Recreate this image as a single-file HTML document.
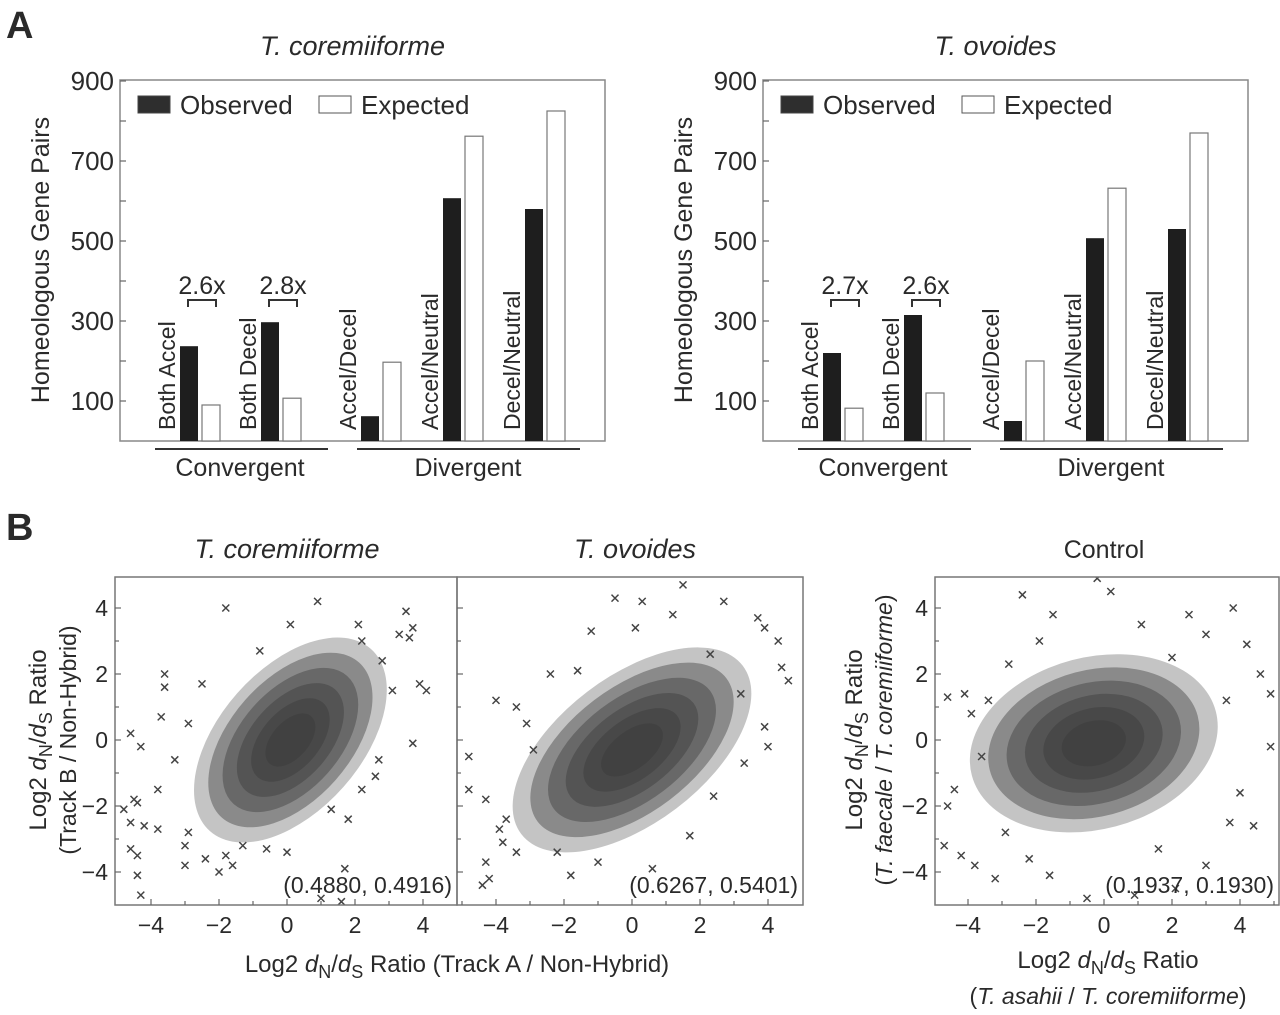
<!DOCTYPE html>
<html><head><meta charset="utf-8">
<style>
html,body{margin:0;padding:0;background:#fff;}
svg{display:block;font-family:"Liberation Sans",sans-serif;}
text{fill:#2a2a2a;}
</style></head>
<body>
<svg id="fig" width="1280" height="1015" viewBox="0 0 1280 1015" xmlns="http://www.w3.org/2000/svg">
<text x="6" y="38" font-size="38" font-weight="bold">A</text>
<text x="6" y="540" font-size="38" font-weight="bold">B</text>
<g id="gA"></g>
<g id="gB"></g>
</svg>
<script>
// ---------- Panel A data ----------
const barCategories = ["Both Accel","Both Decel","Accel/Decel","Accel/Neutral","Decel/Neutral"];
const coreObserved = [237, 297, 62, 607, 580];
const coreExpected = [90, 107, 197, 762, 825];
const ovoObserved = [220, 315, 50, 507, 530];
const ovoExpected = [82, 120, 200, 632, 770];
const yTicksA = [100, 300, 500, 700, 900];
const foldCore = ["2.6x","2.8x"];
const foldOvo = ["2.7x","2.6x"];

// ---------- Panel B data ----------
const ticksB = [-4,-2,0,2,4];
const corrLabels = ["(0.4880, 0.4916)","(0.6267, 0.5401)","(0.1937, 0.1930)"];
// cloud stats: [centerX, centerY, sdX, sdY, rho]
const cloudCore = [0.1, 0.0, 1.05, 1.15, 0.49];
const cloudOvo = [0.0, -0.3, 1.3, 1.15, 0.55];
const cloudCtrl = [-0.3, -0.1, 1.35, 1.0, 0.19];
const outCoreX = [-4.6,-4.3,-3.7,-3.6,-3.6,-4.5,-4.4,-4.8,-4.6,-4.2,-3.8,-4.6,-4.4,-4.4,-4.3,-3,-3,-2.4,-2,-1.8,-1.6,-0.6,0,1,1.6,1.7,-1.8,0.9,0.1,2.1,2.2,3.3,3.5,3.7,3.6,3.9,4.1,3.7,2.8,3.1,-0.8,-2.5,-2.9,-3.3,-3.8,2.7,2.6,2.2,1.8,1.3,-1.3,-2.9];
const outCoreY = [0.2,-0.2,0.7,2,1.6,-1.8,-1.9,-2.1,-2.5,-2.6,-2.7,-3.3,-3.5,-4.1,-4.7,-3.8,-3.2,-3.6,-4,-3.5,-3.8,-3.3,-3.4,-4.8,-4.9,-3.9,4,4.2,3.5,3.5,3,3.2,3.9,3.4,3.1,1.7,1.5,-0.1,2.4,1.5,2.7,1.7,0.5,-0.6,-1.5,-0.6,-1.1,-1.5,-2.4,-2.1,-3.2,-2.8];
const outOvoX = [-4.8,-4.8,-4.3,-4.3,-4.4,-4.2,-3.8,-3.4,-4,-3.4,-2.4,-1.2,-0.5,0.3,0.1,1.5,2.7,3.7,3.9,4.3,4.6,4.4,3.9,3.3,2.4,1.7,0.6,-1,-1.8,-2.2,-3.7,-3.9,-1.6,1.2,2.3,3.2,4,-2.9,-3.1];
const outOvoY = [-0.5,-1.5,-1.8,-3.7,-4.4,-4.2,-3.1,-3.4,1.2,1,2,3.3,4.3,4.2,3.4,4.7,4.2,3.7,3.4,3,1.8,2.2,0.4,-0.7,-1.7,-2.9,-3.9,-3.7,-4.1,-3.4,-2.4,-2.7,2.1,3.8,2.6,1.4,-0.2,-0.3,0.5];
const outCtrlX = [-4.6,-4.4,-4.6,-4.2,-3.8,-3.2,-2.4,-1.5,-0.2,0.2,1.1,2.5,3,3.8,4.6,4.9,4.9,4,3.7,3,2.1,0.9,-0.5,-1.6,-2.9,-3.6,-3.4,-2.8,-1.9,2,3.6,4.2,4.4,1.6,-2.2,-4.7,-4.1,-3.9];
const outCtrlY = [-2,-1.5,1.3,-3.5,-3.8,-4.2,4.4,3.8,4.9,4.5,3.5,3.8,3.2,4,2,1.4,-0.2,-1.6,-2.5,-3.8,-4.5,-4.7,-4.8,-4.1,-2.8,-0.5,1.2,2.3,3,2.5,1.2,2.9,-2.6,-3.3,-3.6,-3.2,1.4,0.8];

const NS="http://www.w3.org/2000/svg";
function mk(parent, tag, attrs, txt){
  const e=document.createElementNS(NS,tag);
  for(const k in attrs) e.setAttribute(k,attrs[k]);
  if(txt!==undefined) e.textContent=txt;
  parent.appendChild(e); return e;
}
const gA=document.getElementById('gA');
const gB=document.getElementById('gB');

// ---------- Panel A ----------
function barChart(off, title, obs, exp, folds, prefix){
  const x0=120+off, x1=605+off, yTop=80, yBase=441;
  const yS=v=>yBase - v*0.4;
  const g=mk(gA,'g',{});
  
  
  let t=mk(g,'text',{x:(x0+x1)/2-10,y:55,'font-size':27,'font-style':'italic','text-anchor':'middle'},title);
  
  
  let fr=mk(g,'rect',{x:x0,y:yTop,width:x1-x0,height:yBase-yTop,fill:'none',stroke:'#888','stroke-width':1.5});
  
  
  for(let v=100; v<=900; v+=100){
    const y=yS(v);
    const tk=mk(g,'line',{x1:x0,x2:x0+6,y1:y,y2:y,stroke:'#666','stroke-width':1.2});
    
    
  }
  yTicksA.forEach(v=>{
    const l=mk(g,'text',{x:x0-6,y:yS(v)+9,'font-size':26,'text-anchor':'end'},String(v));
    
    
  });
  const yl=mk(g,'text',{x:0,y:0,'font-size':25,'text-anchor':'middle',transform:`translate(${off+49},260) rotate(-90)`},'Homeologous Gene Pairs');
  
  
  let r=mk(g,'rect',{x:x0+18,y:96,width:32,height:17,fill:'#2e2e2e',stroke:'#444'});
  
  
  t=mk(g,'text',{x:x0+60,y:114,'font-size':26},'Observed');
  
  
  r=mk(g,'rect',{x:x0+199,y:96,width:32,height:17,fill:'#fff',stroke:'#555'});
  
  
  t=mk(g,'text',{x:x0+241,y:114,'font-size':26},'Expected');
  
  
  const groupX=[180,261,361,443,525];
  barCategories.forEach((c,i)=>{
    const bx=groupX[i]+off;
    let b=mk(g,'rect',{x:bx,y:yS(obs[i]),width:18,height:obs[i]*0.4,fill:'#1e1e1e'});
    
    
    b=mk(g,'rect',{x:bx+22,y:yS(exp[i]),width:18,height:exp[i]*0.4,fill:'#fff',stroke:'#777','stroke-width':1.2});
    
    
    const lb=mk(g,'text',{x:0,y:0,'font-size':23,transform:`translate(${bx-5},430) rotate(-90)`},c);
    
    
  });
  [0,1].forEach(i=>{
    const bx=groupX[i]+off+8;
    const yb=300;
    const p=mk(g,'path',{d:`M${bx} ${yb+7} V${yb} H${bx+28} V${yb+7}`,fill:'none',stroke:'#333','stroke-width':2});
    
    
    const ft=mk(g,'text',{x:bx+14,y:yb-6,'font-size':25,'text-anchor':'middle'},folds[i]);
    
    
  });
  let ln=mk(g,'line',{x1:155+off,x2:328+off,y1:449,y2:449,stroke:'#333','stroke-width':2});
  
  
  ln=mk(g,'line',{x1:357+off,x2:580+off,y1:449,y2:449,stroke:'#333','stroke-width':2});
  
  
  t=mk(g,'text',{x:240+off,y:476,'font-size':25,'text-anchor':'middle'},'Convergent');
  
  
  t=mk(g,'text',{x:468+off,y:476,'font-size':25,'text-anchor':'middle'},'Divergent');
  
  
}
barChart(0,'T. coremiiforme',coreObserved,coreExpected,foldCore,'core');
barChart(643,'T. ovoides',ovoObserved,ovoExpected,foldOvo,'ovo');

// ---------- Panel B ----------
const yTopB=577, yBotB=905;
function scatter(x0,x1,zeroX,cloud,ox,oy,corr,prefix){
  const sx=v=>zeroX+v*34, sy=v=>740-v*33;
  const g=mk(gB,'g',{});
  
  
  const cid='clip-'+prefix;
  const cp=mk(g,'clipPath',{id:cid});
  mk(cp,'rect',{x:x0,y:yTopB,width:x1-x0,height:yBotB-yTopB});
  const inner=mk(g,'g',{'clip-path':`url(#${cid})`});
  const [cx,cy,sdx,sdy,rho]=cloud;
  const a=(sdx*34)**2, d=(sdy*33)**2, b=-rho*sdx*34*sdy*33;
  const tr=(a+d)/2, df=Math.sqrt(((a-d)/2)**2+b*b);
  const l1=tr+df, l2=tr-df;
  const ang=Math.atan2(l1-a,b)*180/Math.PI;
  [2.7,2.3,1.9,1.5,1.1,0.7].forEach((k,i)=>{
    const e=mk(inner,'ellipse',{cx:0,cy:0,rx:k*Math.sqrt(l1),ry:k*Math.sqrt(l2),
      transform:`translate(${sx(cx)},${sy(cy)}) rotate(${ang})`,fill:'#3a3a3a','fill-opacity':i==0?0.3:0.42});
    
    
  });
  ox.forEach((v,i)=>{
    const px=sx(v), py=sy(oy[i]);
    const m=mk(inner,'path',{d:`M${px-3.5} ${py-3.5}L${px+3.5} ${py+3.5}M${px+3.5} ${py-3.5}L${px-3.5} ${py+3.5}`,stroke:'#444','stroke-width':1.5});
    
    
  });
  const fr=mk(g,'rect',{x:x0,y:yTopB,width:x1-x0,height:yBotB-yTopB,fill:'none',stroke:'#777','stroke-width':1.5});
  
  
  for(let v=-5; v<=5; v++){
    const px=sx(v);
    if(px>x0+2 && px<x1-2){
      const tk=mk(g,'line',{x1:px,x2:px,y1:yBotB,y2:yBotB-(v%2==0?6:4),stroke:'#666','stroke-width':1.2});
      
      
    }
    const py=sy(v);
    if(py>yTopB+2 && py<yBotB-2){
      const tk=mk(g,'line',{x1:x0,x2:x0+(v%2==0?6:4),y1:py,y2:py,stroke:'#666','stroke-width':1.2});
      
      
    }
  }
  ticksB.forEach(v=>{
    let l=mk(g,'text',{x:sx(v),y:933,'font-size':23,'text-anchor':'middle'},v<0?'\u2212'+Math.abs(v):String(v));
    
    
  });
  const c=mk(g,'text',{x:x1-5,y:893,'font-size':23,'text-anchor':'end'},corr);
  
  
  return {sy};
}
const s1=scatter(115,457,287,cloudCore,outCoreX,outCoreY,corrLabels[0],'core');
scatter(457,803,632,cloudOvo,outOvoX,outOvoY,corrLabels[1],'ovo');
const s3=scatter(935,1279,1104,cloudCtrl,outCtrlX,outCtrlY,corrLabels[2],'ctrl');
function yLabels(x, sy, prefix){
  ticksB.forEach(v=>{
    const l=mk(gB,'text',{x:x,y:sy(v)+8,'font-size':23,'text-anchor':'end'},v<0?'\u2212'+Math.abs(v):String(v));
    
    
  });
}
yLabels(108,s1.sy,'core');
yLabels(928,s3.sy,'ctrl');
</script>
<script>
const fig=document.getElementById('gB');
fig.insertAdjacentHTML('beforeend',`
<text x="287" y="558" font-size="27" font-style="italic" text-anchor="middle">T. coremiiforme</text>
<text x="635" y="558" font-size="27" font-style="italic" text-anchor="middle">T. ovoides</text>
<text x="1104" y="558" font-size="25" text-anchor="middle">Control</text>
<text transform="translate(46,740) rotate(-90)" font-size="24" text-anchor="middle">Log2 <tspan font-style="italic">d</tspan><tspan font-size="18" dy="6">N</tspan><tspan dy="-6">/</tspan><tspan font-style="italic">d</tspan><tspan font-size="18" dy="6">S</tspan><tspan dy="-6"> Ratio</tspan></text>
<text transform="translate(76,740) rotate(-90)" font-size="23" text-anchor="middle">(Track B / Non-Hybrid)</text>
<text x="457" y="972" font-size="24" text-anchor="middle">Log2 <tspan font-style="italic">d</tspan><tspan font-size="18" dy="6">N</tspan><tspan dy="-6">/</tspan><tspan font-style="italic">d</tspan><tspan font-size="18" dy="6">S</tspan><tspan dy="-6"> Ratio (Track A / Non-Hybrid)</tspan></text>
<text transform="translate(862,740) rotate(-90)" font-size="24" text-anchor="middle">Log2 <tspan font-style="italic">d</tspan><tspan font-size="18" dy="6">N</tspan><tspan dy="-6">/</tspan><tspan font-style="italic">d</tspan><tspan font-size="18" dy="6">S</tspan><tspan dy="-6"> Ratio</tspan></text>
<text transform="translate(892,740) rotate(-90)" font-size="23" text-anchor="middle">(<tspan font-style="italic">T. faecale</tspan> / <tspan font-style="italic">T. coremiiforme</tspan>)</text>
<text x="1108" y="968" font-size="24" text-anchor="middle">Log2 <tspan font-style="italic">d</tspan><tspan font-size="18" dy="6">N</tspan><tspan dy="-6">/</tspan><tspan font-style="italic">d</tspan><tspan font-size="18" dy="6">S</tspan><tspan dy="-6"> Ratio</tspan></text>
<text x="1108" y="1004" font-size="23" text-anchor="middle">(<tspan font-style="italic">T. asahii</tspan> / <tspan font-style="italic">T. coremiiforme</tspan>)</text>
`);
</script>
</body></html>
